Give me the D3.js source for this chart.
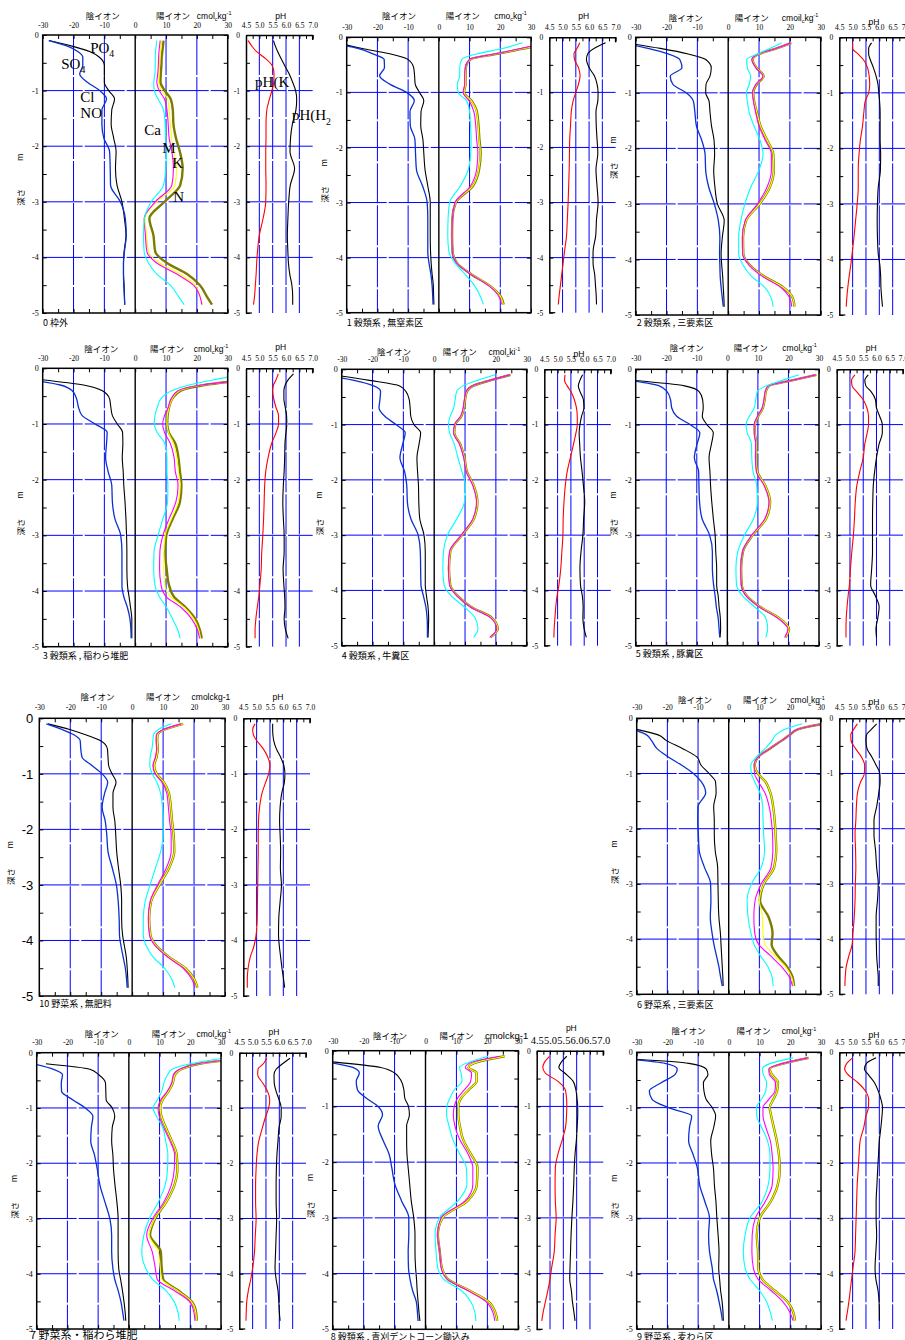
<!DOCTYPE html>
<html>
<head>
<meta charset="utf-8">
<script src="https://cdn.jsdelivr.net/npm/d3@7"></script>
<style>
  body { margin: 0; background: #fff; }
  svg { display: block; }
</style>
</head>
<body>
<svg id="chart" width="905" height="1340"></svg>
<script>
// depth (m) of every sample point, shared by all profiles
const DEPTHS = [0.1, 0.2, 0.3, 0.4, 0.55, 0.7, 0.85, 1.0, 1.15, 1.35, 1.6, 1.85, 2.1, 2.4, 2.7, 3.0, 3.3, 3.6, 3.9, 4.1, 4.3, 4.5, 4.7, 4.85];
const ION_TICKS = [-30, -20, -10, 0, 10, 20, 30];
const PH_TICKS = [4.5, 5.0, 5.5, 6.0, 6.5, 7.0];
const DEPTH_TICKS = [0, -1, -2, -3, -4, -5];
const ION_GRID = [-20, -10, 10, 20];
const PH_GRID = [5.0, 5.5, 6.0, 6.5];
const DEPTH_GRID = [-1, -2, -3, -4];

const CAPTIONS = ["0 枠外", "1 穀類系 , 無窒素区", "2 穀類系 , 三要素区", "3 穀類系 , 稲わら堆肥", "4 穀類系 , 牛糞区",
  "5 穀類系 , 豚糞区", "10 野菜系 , 無肥料", "6 野菜系 , 三要素区", "7 野菜系・稲わら堆肥", "8 穀類系 , 青刈デントコーン鋤込み", "9 野菜系 , 麦わら区"];
const UNITS = ["cmol_ckg^-1", "cmo_ckg^-1", "cmoil_ckg^-1", "cmol_ckg^-1", "cmol_cki^-1", "cmol_ckg^-1",
  "cmolckg-1", "cmol_ckg^-1", "cmol_ckg^-1", "cmolckg-1", "cmol_ckg^-1"];

// anions (negative) : black = PO4, blue = SO4+Cl+NO3 ; cations : cyan, magenta, yellow, olive ; pH red = KCl, black = H2O
const p0_black = [-28, -20.5, -14.6, -11.6, -10, -10, -10, -8.6, -6.7, -7.6, -7.8, -7, -6.2, -6.4, -5.9, -4.3, -3.5, -3, -3.6, -3.8, -3.8, -3.6, -3.5, -3.4];
const p0_blue = [-28, -22, -18.5, -17, -17, -18, -15.5, -11.5, -9.3, -10.8, -10.8, -10.2, -8.3, -8.1, -8, -4.8, -3.2, -2.9, -3.5, -3.8, -3.8, -3.7, -3.5, -3.4];
const p0_cyan = [7.0, 6.8, 6.6, 6.5, 6.5, 6.4, 6.0, 6.2, 7.4, 9.2, 9.7, 9.9, 10.1, 9.9, 9.2, 5.2, 3.0, 2.7, 2.9, 4.3, 7.0, 11.4, 14.0, 15.9];
const p0_magenta = [8.1, 7.9, 7.7, 7.6, 7.5, 7.3, 7.0, 7.8, 9.5, 10.3, 10.7, 11.0, 11.9, 12.4, 11.9, 6.5, 2.9, 3.3, 3.8, 7.0, 13.5, 18.9, 21.0, 21.6];
const p0_yellow = [8.6, 8.4, 8.2, 8.0, 7.9, 7.7, 7.6, 8.6, 10.5, 11.0, 11.4, 11.8, 12.5, 13.4, 12.9, 7.0, 3.2, 3.7, 4.3, 7.9, 14.6, 19.5, 21.0, 21.8];
const p0_olive = [9.2, 9.0, 8.8, 8.6, 8.5, 8.3, 8.2, 9.6, 11.5, 12.2, 12.4, 13.2, 14.5, 15.4, 14.6, 9.5, 4.6, 5.9, 6.5, 10.3, 16.8, 21.0, 23.2, 24.9];
const p0_phKcl = [4.58, 4.72, 4.9, 5.17, 5.48, 5.55, 5.54, 5.47, 5.38, 5.28, 5.25, 5.25, 5.24, 5.24, 5.25, 5.24, 5.14, 5.0, 4.93, 4.9, 4.88, 4.85, 4.82, 4.78];
const p0_phH2o = [5.53, 5.6, 5.69, 5.79, 5.95, 6.12, 6.25, 6.36, 6.4, 6.37, 6.24, 6.17, 6.15, 6.32, 6.16, 6.1, 6.07, 6.05, 6.07, 6.09, 6.14, 6.22, 6.25, 6.25];

const p1_black = [-33, -25.3, -16, -10.1, -8.2, -7.9, -7.7, -6.3, -4.9, -5.8, -5.9, -5.2, -4.9, -4.5, -3.6, -2.8, -2.8, -2.8, -2.7, -2.5, -2.2, -1.8, -1.7, -1.6];
const p1_blue = [-36, -26.4, -21.5, -17.8, -17.7, -19.3, -16, -10.5, -8.0, -9.4, -9.3, -7.8, -7.6, -7.3, -5.3, -3.8, -3.6, -3.6, -3.6, -3.2, -2.6, -2.2, -2.0, -1.9];
const p1_cyan = [27.2, 21, 12.5, 7.5, 6.8, 6.8, 6.0, 6.3, 9.0, 10.0, 10.3, 10.5, 10.4, 9.6, 7.0, 3.5, 3.0, 2.9, 3.3, 5.3, 8.5, 11.5, 13.5, 14.5];
const p1_magenta = [35, 27, 18.5, 10, 8.6, 8.4, 8.4, 7.9, 9.8, 11.4, 12.0, 12.3, 12.7, 12.3, 10.3, 5.3, 4.4, 4.3, 4.4, 5.8, 10.3, 16.0, 19.5, 20.4];
const p1_yellow = [36, 28, 19, 10.3, 8.8, 8.7, 8.7, 8.2, 10.5, 12.3, 12.8, 13.1, 13.5, 13.0, 11.0, 5.5, 4.4, 4.3, 4.5, 5.9, 10.5, 16.3, 20.0, 21.0];
const p1_olive = [36, 28, 19, 10.3, 8.8, 8.7, 8.7, 8.2, 10.6, 12.4, 12.9, 13.2, 13.6, 13.1, 11.1, 5.5, 4.4, 4.3, 4.5, 5.9, 10.5, 16.3, 20.1, 21.1];
const p1_phKcl = [5.65, 5.55, 5.43, 5.45, 5.6, 5.66, 5.6, 5.5, 5.4, 5.33, 5.3, 5.27, 5.26, 5.25, 5.23, 5.21, 5.18, 5.15, 5.07, 5.02, 4.97, 4.92, 4.87, 4.84];
const p1_phH2o = [6.62, 6.2, 5.95, 5.9, 6.0, 6.2, 6.3, 6.34, 6.33, 6.26, 6.27, 6.3, 6.33, 6.26, 6.3, 6.34, 6.28, 6.25, 6.15, 6.15, 6.21, 6.24, 6.27, 6.28];

const p2_black = [-33, -22, -13, -7.3, -5.5, -5.9, -7.2, -7.3, -6.2, -5.9, -5.4, -4.6, -4.4, -4.7, -4.3, -3.5, -1.3, -1.9, -2.3, -2.1, -1.8, -1.6, -1.4, -1.3];
const p2_blue = [-35, -26, -19.5, -15.7, -15, -18.8, -17.9, -13.6, -11.3, -10.8, -10.3, -8.6, -7.5, -7.3, -6.3, -4.5, -3.2, -2.7, -2.8, -2.7, -2.6, -2.3, -1.9, -1.6];
const p2_cyan = [17.3, 13.5, 9.5, 6.0, 6.2, 7.3, 6.8, 5.9, 6.2, 6.8, 8.4, 10.3, 11.3, 9.9, 7.3, 5.4, 4.1, 3.4, 3.4, 4.8, 7.5, 11.8, 14.0, 14.6];
const p2_magenta = [20.3, 15.5, 9.8, 7.7, 9.0, 11.3, 9.0, 7.9, 8.2, 8.9, 10.0, 12.0, 14.0, 14.0, 12.6, 9.5, 5.5, 4.6, 4.7, 6.8, 11.0, 17.0, 20.0, 20.6];
const p2_yellow = [20.5, 15.7, 10.0, 7.9, 9.2, 11.5, 9.2, 8.1, 8.4, 9.3, 10.5, 12.6, 14.6, 14.8, 13.5, 10.2, 5.8, 4.8, 4.9, 7.0, 11.5, 17.8, 21.0, 21.5];
const p2_olive = [20.5, 15.7, 10.0, 7.9, 9.2, 11.5, 9.2, 8.1, 8.4, 9.3, 10.5, 12.6, 14.6, 14.8, 13.5, 10.2, 5.8, 4.8, 4.9, 7.0, 11.5, 17.8, 21.0, 21.5];
const p2_phKcl = [5.0, 5.0, 5.2, 5.4, 5.56, 5.62, 5.64, 5.6, 5.47, 5.42, 5.37, 5.29, 5.24, 5.21, 5.21, 5.17, 5.11, 5.05, 4.98, 4.93, 4.87, 4.82, 4.78, 4.76];
const p2_phH2o = [5.71, 5.6, 5.6, 5.66, 5.78, 5.88, 5.95, 5.98, 6.01, 6.03, 6.03, 6.03, 6.05, 6.04, 5.96, 5.93, 5.92, 5.93, 5.96, 6.02, 6.05, 6.06, 6.09, 6.12];

const p3_black = [null, -31, -16.8, -10.8, -8.3, -7.9, -7.4, -5.8, -4.1, -4.0, -4.2, -3.9, -3.7, -3.3, -3.0, -2.8, -2.7, -2.7, -2.5, -2.0, -1.5, -1.1, -1.1, -1.1];
const p3_blue = [null, -35, -24.3, -20.5, -19.0, -18.4, -17.2, -13.0, -9.1, -9.3, -9.6, -8.8, -7.6, -7.4, -6.6, -4.7, -4.3, -4.3, -4.3, -3.7, -2.5, -1.7, -1.4, -1.3];
const p3_cyan = [36, 26, 17.5, 12.0, 8.3, 7.2, 6.4, 6.2, 7.1, 9.6, 10.3, 10.3, 10.6, 10.5, 9.0, 7.4, 6.1, 6.0, 6.4, 7.8, 10.2, 12.1, 13.8, 14.6];
const p3_magenta = [null, 38, 21.5, 14.0, 11.6, 10.7, 9.5, 8.9, 9.5, 11.4, 12.6, 13.0, 13.9, 13.2, 11.0, 9.0, 8.0, 7.9, 8.4, 10.0, 15.0, 18.3, 20.2, 20.9];
const p3_yellow = [null, 38, 22, 14.5, 12.0, 11.0, 10.4, 10.3, 10.8, 12.4, 13.5, 14.0, 14.6, 14.0, 11.8, 9.7, 9.3, 9.3, 9.6, 11.5, 16.0, 19.0, 20.6, 21.2];
const p3_olive = [null, 38, 22.5, 14.8, 12.0, 11.0, 10.5, 10.4, 10.9, 13.0, 14.0, 14.5, 15.0, 14.5, 12.2, 10.1, 9.7, 10.2, 11.0, 12.5, 16.5, 19.5, 21.0, 21.6];
const p3_phKcl = [5.71, 5.63, 5.53, 5.5, 5.54, 5.62, 5.72, 5.72, 5.63, 5.46, 5.33, 5.24, 5.2, 5.18, 5.16, 5.13, 5.09, 5.07, 5.02, 4.98, 4.92, 4.87, 4.84, 4.84];
const p3_phH2o = [6.28, 6.09, 5.97, 5.92, 5.92, 5.97, 6.02, 6.03, 6.0, 5.96, 5.95, 5.93, 5.9, 5.88, 5.9, 5.93, 5.93, 5.89, 5.92, 5.95, 5.96, 5.93, 5.98, 6.08];

const p4_black = [-33, -21, -11.2, -9.2, -8.1, -7.8, -7.6, -6.6, -4.4, -4.9, -5.6, -5.4, -5.1, -5.0, -4.7, -3.3, -2.9, -2.9, -2.9, -2.5, -2.0, -1.8, -1.9, -2.0];
const p4_blue = [-36, -26, -19.6, -17.4, -17.6, -17.9, -16, -12.4, -9.4, -10.2, -11.1, -9.6, -8.9, -8.7, -7.6, -5.2, -4.5, -4.4, -4.3, -3.5, -2.7, -2.3, -2.2, -2.2];
const p4_cyan = [19.8, 14, 9.3, 7.3, 6.8, 6.3, 5.2, 4.6, 5.0, 6.5, 7.7, 9.0, 10.1, 9.8, 7.4, 4.3, 3.0, 2.8, 3.2, 5.5, 9.8, 13.3, 14.2, 12.8];
const p4_magenta = [24.6, 18.0, 12.4, 10.4, 9.8, 9.4, 8.6, 6.6, 6.3, 8.2, 9.6, 10.4, 12.5, 13.7, 12.6, 8.8, 5.0, 4.6, 5.0, 7.4, 11.8, 18.5, 20.3, 18.0];
const p4_yellow = [24.8, 18.2, 12.6, 10.6, 10.0, 9.6, 8.8, 6.8, 6.5, 8.4, 9.8, 10.6, 12.8, 14.0, 12.9, 9.0, 5.2, 4.8, 5.2, 7.6, 12.0, 18.8, 20.6, 18.3];
const p4_olive = [24.8, 18.2, 12.6, 10.6, 10.0, 9.6, 8.8, 6.8, 6.5, 8.4, 9.8, 10.6, 12.8, 14.0, 12.9, 9.0, 5.2, 4.8, 5.2, 7.6, 12.0, 18.8, 20.6, 18.3];
const p4_phKcl = [5.28, 5.26, 5.36, 5.5, 5.63, 5.71, 5.74, 5.74, 5.69, 5.6, 5.48, 5.36, 5.29, 5.24, 5.21, 5.2, 5.16, 5.12, 5.05, 4.98, 4.93, 4.9, 4.87, 4.86];
const p4_phH2o = [5.94, 5.84, 5.78, 5.84, 5.97, 5.99, 5.9, 5.84, 5.81, 5.83, 5.86, 5.92, 5.97, 6.02, 5.98, 5.95, 5.88, 5.84, 5.86, 5.93, 5.96, 5.95, 6.0, 6.08];

const p5_black = [null, -31, -14, -9.3, -8.1, -7.9, -8.2, -6.7, -4.6, -5.2, -6.0, -5.7, -5.5, -5.1, -4.6, -4.0, -3.8, -3.5, -3.5, -3.0, -2.7, -2.3, -2.2, -2.4];
const p5_blue = [null, -32, -22.3, -19.8, -18.6, -18.2, -16.6, -12.2, -9.0, -9.9, -10.8, -9.4, -9.3, -9.1, -8.3, -5.8, -4.9, -4.9, -4.5, -4.0, -3.6, -3.0, -2.7, -2.5];
const p5_cyan = [23.4, 18.0, 12.8, 9.8, 9.3, 8.8, 7.2, 6.1, 6.5, 7.9, 8.0, 8.4, 9.6, 9.8, 8.6, 5.6, 3.4, 2.8, 3.0, 5.0, 9.0, 12.6, 13.2, 12.6];
const p5_magenta = [29, 21, 13.4, 12.4, 12.0, 11.4, 9.9, 8.8, 8.8, 9.3, 9.2, 9.5, 12.0, 13.6, 12.3, 8.0, 5.0, 4.4, 4.6, 6.2, 10.5, 16.5, 19.8, 18.8];
const p5_yellow = [29.2, 21.2, 13.6, 12.6, 12.2, 11.6, 10.1, 9.0, 9.0, 9.5, 9.4, 9.8, 12.4, 14.0, 12.7, 8.3, 5.1, 4.5, 4.7, 6.4, 10.8, 16.9, 20.2, 19.0];
const p5_olive = [29.2, 21.2, 13.6, 12.6, 12.2, 11.6, 10.1, 9.0, 9.0, 9.5, 9.4, 9.8, 12.4, 14.0, 12.7, 8.3, 5.1, 4.5, 4.7, 6.4, 10.8, 16.9, 20.2, 19.0];
const p5_phKcl = [5.19, 5.06, 5.08, 5.24, 5.5, 5.64, 5.7, 5.7, 5.65, 5.56, 5.5, 5.37, 5.26, 5.2, 5.17, 5.13, 5.07, 5.02, 4.98, 4.93, 4.89, 4.86, 4.85, 4.85];
const p5_phH2o = [5.69, 5.56, 5.6, 5.79, 5.96, 6.0, 6.12, 6.22, 6.22, 6.1, 6.0, 5.93, 5.88, 5.86, 5.85, 5.85, 5.85, 5.82, 5.78, 5.96, 6.1, 6.05, 5.98, 6.0];

const p10_black = [-27.2, -20.2, -14.8, -10.3, -8.0, -7.8, -7.6, -6.5, -5.2, -6.2, -6.2, -5.6, -5.3, -5.0, -4.4, -3.7, -3.4, -3.4, -3.1, -2.5, -1.9, -1.6, -1.4, -1.3];
const p10_blue = [-27.7, -22.7, -18.7, -16.8, -16.6, -16.2, -13.0, -9.7, -7.9, -8.9, -9.7, -8.7, -8.2, -7.8, -6.4, -5.1, -4.5, -4.2, -4.1, -3.6, -2.9, -2.2, -1.8, -1.6];
const p10_cyan = [12.7, 8.5, 6.9, 6.7, 6.4, 5.8, 5.7, 6.5, 8.0, 9.2, 9.8, 10.0, 10.0, 9.2, 7.5, 5.8, 4.2, 3.6, 3.6, 4.6, 6.8, 10.5, 12.8, 13.8];
const p10_magenta = [15.9, 10.2, 7.8, 7.7, 7.9, 7.5, 6.7, 7.4, 9.6, 11.2, 11.7, 12.1, 12.6, 12.6, 11.0, 8.2, 5.8, 5.2, 5.6, 7.5, 11.5, 16.5, 19.3, 20.3];
const p10_yellow = [16.5, 10.6, 8.2, 8.1, 8.3, 7.9, 7.1, 7.9, 10.2, 11.9, 12.5, 12.9, 13.4, 13.6, 11.9, 8.8, 6.1, 5.5, 5.9, 7.9, 12.0, 17.2, 20.1, 21.1];
const p10_olive = [16.5, 10.6, 8.2, 8.1, 8.3, 7.9, 7.1, 7.9, 10.2, 11.9, 12.5, 12.9, 13.4, 13.6, 11.9, 8.8, 6.1, 5.5, 5.9, 7.9, 12.0, 17.2, 20.1, 21.1];
const p10_phKcl = [4.94, 4.85, 4.88, 5.0, 5.25, 5.42, 5.5, 5.45, 5.34, 5.2, 5.11, 5.07, 5.06, 5.06, 5.05, 5.04, 5.03, 5.02, 4.98, 4.9, 4.76, 4.68, 4.65, 4.65];
const p10_phH2o = [5.6, 5.6, 5.61, 5.64, 5.74, 5.9, 6.02, 6.06, 6.04, 5.94, 5.88, 5.86, 5.88, 5.9, 5.89, 5.93, 5.88, 5.83, 5.82, 5.85, 5.9, 5.95, 6.01, 6.05];

const p6_black = [null, -30, -23, -20.4, -15.0, -10.4, -9.0, -6.4, -4.3, -4.1, -4.9, -4.7, -4.7, -4.4, -3.6, -3.5, -3.4, -3.2, -2.7, -2.5, -2.3, -2.1, -1.9, -1.8];
const p6_blue = [null, -31, -26.8, -25.2, -23.4, -19.7, -15.3, -11.5, -8.9, -7.5, -10.0, -10.1, -9.9, -9.6, -7.9, -5.9, -5.8, -6.0, -5.4, -4.8, -4.0, -3.2, -2.6, -2.1];
const p6_cyan = [24, 18.3, 15.3, 14.2, 11.8, 9.1, 7.2, 7.4, 8.5, 10.2, 11.1, 11.2, 11.4, 11.7, 10.6, 7.4, 6.0, 6.3, 7.3, 8.3, 10.3, 12.8, 14.2, 14.5];
const p6_magenta = [31, 22.5, 19.9, 17.4, 13.4, 9.6, 8.3, 8.4, 9.7, 11.8, 13.2, 13.9, 14.3, 14.4, 13.8, 10.6, 8.6, 8.2, 8.5, 9.8, 13.6, 17.2, 19.9, 20.8];
const p6_yellow = [31, 22.5, 19.9, 17.4, 13.4, 9.6, 8.5, 9.5, 12.0, 13.6, 14.5, 15.0, 15.3, 15.5, 14.8, 11.5, 10.0, 11.0, 11.2, 11.9, 15.0, 18.5, 20.6, 21.2];
const p6_olive = [31, 22.5, 19.9, 17.4, 13.4, 9.6, 8.5, 9.5, 12.0, 13.6, 14.5, 15.0, 15.3, 15.5, 14.8, 11.5, 10.2, 13.0, 14.3, 14.0, 16.0, 19.0, 20.9, 21.3];
const p6_phKcl = [5.18, 5.04, 4.93, 4.94, 5.11, 5.33, 5.45, 5.44, 5.3, 5.18, 5.14, 5.12, 5.09, 5.11, 5.12, 5.1, 5.09, 5.06, 5.01, 4.98, 4.86, 4.76, 4.72, 4.71];
const p6_phH2o = [5.9, 5.7, 5.52, 5.5, 5.54, 5.72, 5.88, 6.02, 6.03, 5.98, 5.9, 5.8, 5.8, 5.86, 5.9, 5.96, 5.93, 5.88, 5.88, 5.89, 5.9, 5.93, 5.96, 5.96];

const p7_black = [null, -27, -12.7, -9.8, -7.6, -7.5, -7.4, -5.4, -4.6, -5.4, -5.6, -5.2, -5.0, -4.5, -3.9, -3.5, -3.5, -3.5, -3.3, -2.7, -2.1, -1.6, -1.2, -1.0];
const p7_blue = [null, -31, -24.5, -21.6, -22.0, -21.9, -18.3, -14.2, -11.7, -12.2, -12.4, -11.2, -10.3, -9.4, -7.8, -6.2, -5.6, -5.6, -5.2, -4.6, -3.5, -2.6, -2.0, -1.6];
const p7_cyan = [30.5, 20, 14.1, 12.6, 11.4, 10.7, 9.3, 7.9, 9.0, 11.0, 12.0, 12.7, 12.6, 11.8, 9.6, 6.7, 4.9, 4.2, 5.5, 7.7, 12.0, 14.7, 16.0, 16.4];
const p7_magenta = [38, 22.5, 16.5, 14.5, 13.9, 12.5, 10.4, 9.5, 9.9, 11.3, 13.4, 14.9, 14.8, 13.8, 11.4, 7.8, 5.8, 7.6, 8.6, 9.2, 14.6, 19.7, 21.2, 21.5];
const p7_yellow = [38, 23, 17, 15.0, 14.3, 12.9, 11.0, 10.2, 10.6, 12.0, 14.0, 15.6, 15.8, 14.8, 12.2, 8.5, 6.6, 9.6, 10.2, 10.7, 15.8, 20.3, 21.8, 22.0];
const p7_olive = [38, 23, 17, 15.0, 14.3, 12.9, 11.0, 10.2, 10.6, 12.0, 14.0, 15.6, 15.8, 14.8, 12.2, 8.6, 6.9, 10.4, 10.7, 11.2, 16.0, 20.4, 21.9, 22.1];
const p7_phKcl = [5.53, 5.4, 5.2, 5.19, 5.38, 5.56, 5.64, 5.6, 5.49, 5.37, 5.23, 5.16, 5.13, 5.11, 5.11, 5.13, 5.1, 5.07, 5.0, 4.93, 4.84, 4.78, 4.76, 4.75];
const p7_phH2o = [6.4, 6.12, 5.88, 5.8, 5.81, 5.88, 5.99, 6.07, 6.07, 5.99, 5.95, 5.91, 5.89, 5.88, 5.88, 5.9, 5.88, 5.86, 5.84, 5.88, 5.95, 5.98, 6.0, 6.03];

const p8_black = [null, -30, -14.5, -10.0, -7.8, -7.0, -6.7, -5.5, -5.2, -6.1, -6.1, -6.0, -5.6, -5.1, -4.6, -3.8, -3.4, -3.4, -3.2, -2.9, -2.7, -2.4, -2.1, -1.8];
const p8_blue = [null, -32, -23.5, -21.4, -22.4, -22.0, -19.2, -15.3, -13.9, -15.3, -13.8, -11.8, -10.9, -9.9, -7.7, -5.4, -5.4, -5.6, -5.5, -5.0, -4.2, -3.0, -2.6, -2.4];
const p8_cyan = [20.3, 14.5, 11.0, 11.5, 11.8, 9.3, 7.9, 6.9, 6.8, 7.6, 8.9, 11.0, 13.2, 13.4, 10.4, 4.5, 3.1, 3.4, 4.0, 5.8, 11.5, 14.6, 16.0, 16.3];
const p8_magenta = [24, 15.4, 12.9, 14.9, 14.6, 12.6, 10.4, 9.3, 9.0, 9.5, 11.1, 13.7, 15.3, 15.3, 12.7, 5.0, 3.9, 4.6, 5.1, 7.0, 13.5, 19.5, 21.8, 22.4];
const p8_yellow = [25.6, 17.0, 13.9, 16.5, 16.5, 14.0, 11.5, 10.6, 10.6, 11.1, 12.2, 14.6, 16.8, 16.6, 13.5, 5.5, 4.0, 4.6, 5.3, 7.2, 14.0, 20.3, 22.6, 23.2];
const p8_olive = [25.6, 17.0, 13.9, 16.5, 16.5, 14.0, 11.5, 10.6, 10.6, 11.1, 12.2, 14.6, 16.8, 16.6, 13.5, 5.5, 4.0, 4.6, 5.3, 7.2, 14.0, 20.3, 22.6, 23.2];
const p8_phKcl = [4.98, 4.8, 4.73, 4.82, 5.3, 5.57, 5.62, 5.63, 5.62, 5.59, 5.46, 5.3, 5.2, 5.19, 5.2, 5.23, 5.19, 5.16, 5.06, 5.0, 4.92, 4.83, 4.74, 4.69];
const p8_phH2o = [5.63, 5.43, 5.33, 5.55, 5.87, 5.97, 6.01, 6.04, 6.04, 6.02, 5.99, 5.94, 5.91, 5.89, 5.86, 5.82, 5.79, 5.77, 5.75, 5.74, 5.8, 5.84, 5.9, 5.94];

const p9_black = [-38, -13, -7.4, -6.8, -8.3, -8.1, -7.4, -5.4, -4.3, -4.9, -5.9, -5.6, -5.0, -4.7, -4.2, -3.9, -3.5, -3.2, -3.3, -3.0, -2.7, -2.2, -1.9, -1.8];
const p9_blue = [-38, -20.8, -16.8, -17.5, -22.0, -25.9, -25.0, -19.7, -12.1, -12.8, -13.1, -11.6, -10.2, -9.5, -7.8, -6.3, -6.6, -6.3, -5.4, -5.0, -4.0, -3.2, -2.5, -2.1];
const p9_cyan = [20.9, 13.6, 10.9, 11.2, 12.3, 12.0, 10.6, 9.0, 9.1, 10.6, 12.6, 13.4, 13.4, 12.8, 10.8, 6.8, 5.3, 4.7, 5.3, 6.9, 9.9, 12.2, 13.5, 14.2];
const p9_magenta = [25.8, 17.7, 13.0, 13.2, 15.2, 15.0, 13.0, 11.1, 11.1, 12.0, 13.5, 14.1, 14.4, 14.1, 11.8, 8.6, 7.6, 7.5, 8.0, 9.5, 13.6, 17.5, 19.9, 20.9];
const p9_yellow = [26, 18.0, 13.3, 14.0, 16.0, 15.7, 14.5, 13.3, 13.8, 14.6, 15.6, 16.3, 16.6, 15.9, 13.6, 10.0, 9.1, 9.5, 9.6, 10.9, 14.8, 19.0, 21.0, 21.5];
const p9_olive = [26, 18.0, 13.3, 14.0, 16.0, 15.7, 14.5, 13.3, 13.8, 14.6, 15.6, 16.3, 16.6, 15.9, 13.6, 10.0, 9.1, 9.5, 9.6, 10.9, 14.8, 19.0, 21.0, 21.5];
const p9_phKcl = [5.0, 4.78, 4.7, 4.82, 5.2, 5.48, 5.6, 5.59, 5.5, 5.42, 5.28, 5.24, 5.21, 5.17, 5.15, 5.13, 5.11, 5.09, 5.01, 4.96, 4.91, 4.86, 4.8, 4.75];
const p9_phH2o = [5.88, 5.52, 5.44, 5.58, 5.82, 5.96, 6.06, 6.12, 6.1, 6.06, 6.0, 5.97, 5.94, 5.91, 5.88, 5.88, 5.9, 5.87, 5.84, 5.87, 5.95, 5.99, 6.0, 6.0];

// series labels written inside panel 0 (value / depth coordinates)
const P0_NOTES = [
  { t: "PO_4", v: -14.6, d: 0.32 }, { t: "SO_4", v: -24, d: 0.61 }, { t: "Cl", v: -17.8, d: 1.2 },
  { t: "NO", v: -17.8, d: 1.49 }, { t: "Ca", v: 2.9, d: 1.8 }, { t: "M", v: 8.8, d: 2.12 },
  { t: "K", v: 12, d: 2.39 }, { t: "N", v: 12.3, d: 3.0 }
];
const P0_PH_NOTES = [{ t: "pH(K", v: 4.84, d: 0.94 }, { t: "pH(H_2", v: 6.22, d: 1.53 }];

const ION_STYLE = [
  { color: "#000000", width: 1.1 },
  { color: "#0a30d0", width: 1.3 },
  { color: "#7c7c00", width: 2.4 },
  { color: "#ffff00", width: 1.1 },
  { color: "#ff00ff", width: 1.1 },
  { color: "#00ffff", width: 1.1 }
];
const PH_STYLE = [{ color: "#ff0000", width: 1.1 }, { color: "#000000", width: 1.1 }];

const serif = '"Liberation Serif","Times New Roman",serif';
const sans = '"Liberation Sans",Arial,sans-serif';
const cjk = '"Noto Sans CJK JP","Noto Sans CJK SC",sans-serif';

// page layout of each panel
const PANELS = [
  { x0: 42.7, x1: 227.7, y0: 35, y1: 313, p0: 246, p1: 312.7, ky: 28, ty: 18.5, phy: 18.5, capx: 43, capy: 326, an: -10.5, ca: 12.3, un: 20, mt: 0.44, ft: 0.584,
    ions: [p0_black, p0_blue, p0_olive, p0_yellow, p0_magenta, p0_cyan], ph: [p0_phKcl, p0_phH2o] },
  { x0: 346.7, x1: 531, y0: 37.3, y1: 312.7, p0: 549.3, p1: 615.6, ky: 29.5, ty: 18.5, phy: 18.5, capx: 346.7, capy: 326, an: -13, ca: 7.8, un: 18,
    ions: [p1_black, p1_blue, p1_olive, p1_yellow, p1_magenta, p1_cyan], ph: [p1_phKcl, p1_phH2o] },
  { x0: 635.7, x1: 820.7, y0: 37.3, y1: 315, p0: 839.3, p1: 906, ky: 30, ty: 20.5, phy: 25, capx: 636.7, capy: 326, an: -13.8, ca: 7.6, un: 17.4, mt: 0.37, ft: 0.48,
    ions: [p2_black, p2_blue, p2_olive, p2_yellow, p2_magenta, p2_cyan], ph: [p2_phKcl, p2_phH2o] },
  { x0: 42.7, x1: 227.7, y0: 368.3, y1: 646.7, p0: 246, p1: 312.7, ky: 361, ty: 351.5, phy: 350, capx: 42.7, capy: 658.5, an: -11, ca: 10.3, un: 19,
    ions: [p3_black, p3_blue, p3_olive, p3_yellow, p3_magenta, p3_cyan], ph: [p3_phKcl, p3_phH2o] },
  { x0: 341.7, x1: 526.7, y0: 369.3, y1: 645.7, p0: 544.3, p1: 610.8, ky: 362, ty: 354.5, phy: 356.5, capx: 341.7, capy: 658.5, an: -13, ca: 8.3, un: 17.6,
    ions: [p4_black, p4_blue, p4_olive, p4_yellow, p4_magenta, p4_cyan], ph: [p4_phKcl, p4_phH2o] },
  { x0: 635.7, x1: 819, y0: 369.3, y1: 645.7, p0: 836.7, p1: 903, ky: 361, ty: 350.5, phy: 350.5, capx: 635.7, capy: 657, an: -13.3, ca: 7.7, un: 18,
    ions: [p5_black, p5_blue, p5_olive, p5_yellow, p5_magenta, p5_cyan], ph: [p5_phKcl, p5_phH2o] },
  { x0: 39.3, x1: 225, y0: 718.3, y1: 996, p0: 243.3, p1: 310, ky: 710, ty: 700, phy: 700, capx: 39.3, capy: 1007, an: -11.2, ca: 10, un: 19.2, bigY: true, ytx: 29,
    ions: [p10_black, p10_blue, p10_olive, p10_yellow, p10_magenta, p10_cyan], ph: [p10_phKcl, p10_phH2o] },
  { x0: 636.7, x1: 820.7, y0: 718.3, y1: 994.3, p0: 839.3, p1: 906, ky: 710, ty: 703, phy: 705, capx: 637, capy: 1007.5, an: -11, ca: 10.2, un: 20.1,
    ions: [p6_black, p6_blue, p6_olive, p6_yellow, p6_magenta, p6_cyan], ph: [p6_phKcl, p6_phH2o] },
  { x0: 36.7, x1: 221, y0: 1052.7, y1: 1329, p0: 239.3, p1: 306, ky: 1045, ty: 1036.5, phy: 1035, capx: 30, capy: 1339, capSize: 11, an: -8.8, ca: 13, un: 22, phTick: 8.5,
    ions: [p7_black, p7_blue, p7_olive, p7_yellow, p7_magenta, p7_cyan], ph: [p7_phKcl, p7_phH2o] },
  { x0: 332.7, x1: 518.3, y0: 1050.7, y1: 1329.3, p0: 536.7, p1: 603.3, ky: 1043.5, ty: 1039, phy: 1031, capx: 330.7, capy: 1339.5, an: -11.5, ca: 10, un: 19.2, phTick: 10.5, unitSize: 9.5,
    ions: [p8_black, p8_blue, p8_olive, p8_yellow, p8_magenta, p8_cyan], ph: [p8_phKcl, p8_phH2o] },
  { x0: 636.7, x1: 821, y0: 1052.3, y1: 1329, p0: 839.3, p1: 906, ky: 1044.5, ty: 1034, phy: 1038, capx: 637, capy: 1339.5, an: -13.1, ca: 8, un: 17.2,
    ions: [p9_black, p9_blue, p9_olive, p9_yellow, p9_magenta, p9_cyan], ph: [p9_phKcl, p9_phH2o] }
];

const svg = d3.select("#chart");
const defs = svg.append("defs");

// text with _x subscripts and ^x superscripts
function richText(sel, str, size) {
  const parts = str.split(/(_\w|\^-?\d+)/).filter(s => s !== "");
  let shift = 0;
  parts.forEach(s => {
    let target = 0, txt = s;
    if (s[0] === "_") { target = size * 0.3; txt = s.slice(1); }
    else if (s[0] === "^") { target = -size * 0.4; txt = s.slice(1); }
    const t = sel.append("tspan").text(txt).attr("dy", target - shift);
    if (target !== 0) t.attr("font-size", size * 0.65);
    shift = target;
  });
}

function drawPanel(p, i) {
  const x = d3.scaleLinear().domain([-30, 30]).range([p.x0, p.x1]);
  const y = d3.scaleLinear().domain([0, -5]).range([p.y0, p.y1]);
  const ph = d3.scaleLinear().domain([4.5, 7.0]).range([p.p0, p.p1]);
  const g = svg.append("g");

  const clip = "clip" + i;
  defs.append("clipPath").attr("id", clip).append("rect")
    .attr("x", p.x0).attr("y", p.y0).attr("width", p.x1 - p.x0).attr("height", p.y1 - p.y0);

  // blue grid
  const grid = g.append("g").attr("stroke", "#0000ff").attr("stroke-width", 1).attr("stroke-dasharray", "40,2");
  grid.append("g").selectAll("line").data(ION_GRID).join("line")
    .attr("x1", x).attr("x2", x).attr("y1", p.y0).attr("y2", p.y1);
  grid.append("g").selectAll("line").data(DEPTH_GRID).join("line")
    .attr("x1", p.x0).attr("x2", p.x1).attr("y1", y).attr("y2", y);
  grid.append("g").selectAll("line").data(PH_GRID).join("line")
    .attr("x1", ph).attr("x2", ph).attr("y1", p.y0).attr("y2", p.y1);
  grid.append("g").selectAll("line").data(DEPTH_GRID).join("line")
    .attr("x1", p.p0).attr("x2", p.p1).attr("y1", y).attr("y2", y);

  // profiles
  const pts = arr => arr.map((v, k) => [v, DEPTHS[k]]);
  const lineFor = sx => d3.line().defined(d => d[0] != null)
    .x(d => sx(d[0])).y(d => y(-d[1])).curve(d3.curveMonotoneY);
  const ionG = g.append("g").attr("clip-path", `url(#${clip})`).attr("fill", "none");
  p.ions.forEach((arr, k) => {
    ionG.append("path").attr("d", lineFor(x)(pts(arr)))
      .attr("stroke", ION_STYLE[k].color).attr("stroke-width", ION_STYLE[k].width);
  });
  const phG = g.append("g").attr("fill", "none");
  p.ph.forEach((arr, k) => {
    phG.append("path").attr("d", lineFor(ph)(pts(arr)))
      .attr("stroke", PH_STYLE[k].color).attr("stroke-width", PH_STYLE[k].width);
  });

  // frame, zero line
  g.append("rect").attr("x", p.x0).attr("y", p.y0).attr("width", p.x1 - p.x0).attr("height", p.y1 - p.y0)
    .attr("fill", "none").attr("stroke", "#000").attr("stroke-width", 1.5);
  g.append("line").attr("x1", x(0)).attr("x2", x(0)).attr("y1", p.y0).attr("y2", p.y1)
    .attr("stroke", "#000").attr("stroke-width", 1.4);

  // inward ticks
  const halfM = d3.range(0, -5.01, -0.5);
  const fives = d3.range(-30, 30.01, 5);
  const tickAxis = (axis, tx, ty) => {
    const a = g.append("g").attr("transform", `translate(${tx},${ty})`).call(axis.tickSize(-4).tickSizeOuter(0).tickFormat(""));
    a.select(".domain").remove();
    a.selectAll("line").attr("stroke", "#000").attr("stroke-width", 1);
    return a;
  };
  tickAxis(d3.axisLeft(y).tickValues(halfM), p.x0, 0);
  tickAxis(d3.axisRight(y).tickValues(halfM), p.x1, 0);
  tickAxis(d3.axisTop(x).tickValues(fives), 0, p.y0);
  tickAxis(d3.axisBottom(x).tickValues(fives), 0, p.y1);

  // pH axes: left and top lines
  const phL = g.append("g").attr("transform", `translate(${p.p0},0)`)
    .call(d3.axisLeft(y).tickValues(halfM).tickSize(-4).tickSizeOuter(0).tickFormat(""));
  const phT = g.append("g").attr("transform", `translate(0,${p.y0})`)
    .call(d3.axisTop(ph).tickValues(d3.range(4.5, 7.01, 0.25)).tickSize(-4).tickSizeOuter(0).tickFormat(""));
  [phL, phT].forEach(a => {
    a.select(".domain").attr("stroke", "#000").attr("stroke-width", 1.5);
    a.selectAll("line").attr("stroke", "#000").attr("stroke-width", 1);
  });
  g.append("line").attr("x1", p.p1).attr("x2", p.p1).attr("y1", p.y0).attr("y2", p.y0 + 5)
    .attr("stroke", "#000").attr("stroke-width", 1.5);
  g.append("line").attr("x1", p.p0).attr("x2", p.p0 + 6).attr("y1", p.y1).attr("y2", p.y1)
    .attr("stroke", "#000").attr("stroke-width", 1.2);

  // tick labels
  const labelAxis = (axis, tx, ty, font, size) => {
    const a = g.append("g").attr("transform", `translate(${tx},${ty})`).call(axis);
    a.select(".domain").remove();
    a.selectAll("text").attr("font-family", font).attr("font-size", size).attr("fill", "#000");
    return a;
  };
  labelAxis(d3.axisTop(x).tickValues(ION_TICKS).tickSize(0).tickPadding(p.y0 - p.ky).tickFormat(d => String(d)),
    0, p.y0, serif, 7.5);
  labelAxis(d3.axisTop(ph).tickValues(PH_TICKS).tickSize(0).tickPadding(p.y0 - p.ky).tickFormat(d3.format(".1f")),
    0, p.y0, serif, p.phTick || 7.5);
  if (p.bigY) {
    labelAxis(d3.axisLeft(y).tickValues(DEPTH_TICKS).tickSize(0).tickPadding(6).tickFormat(d => String(d)),
      p.x0, 0, sans, 13);
  } else {
    labelAxis(d3.axisLeft(y).tickValues(DEPTH_TICKS).tickSize(0).tickPadding(4).tickFormat(d => String(d)),
      p.x0, 0, serif, 8);
  }
  labelAxis(d3.axisLeft(y).tickValues(DEPTH_TICKS).tickSize(0).tickPadding(6).tickFormat(d => String(d)),
    p.p0, 0, serif, 7.5);

  // titles
  g.append("text").attr("x", x(p.an)).attr("y", p.ty).attr("text-anchor", "middle")
    .attr("font-family", cjk).attr("font-size", 8.5).text("陰イオン");
  g.append("text").attr("x", x(p.ca)).attr("y", p.ty).attr("text-anchor", "middle")
    .attr("font-family", cjk).attr("font-size", 8.5).text("陽イオン");
  const us = p.unitSize || 8.5;
  const ut = g.append("text").attr("x", x(p.un)).attr("y", p.ty).attr("font-family", sans).attr("font-size", us);
  richText(ut, UNITS[i], us);
  g.append("text").attr("x", ph(5.8)).attr("y", p.phy).attr("text-anchor", "middle")
    .attr("font-family", sans).attr("font-size", 8.5).text("pH");

  // depth title
  const ytx = p.x0 - (p.ytx || 23);
  const span = p.y1 - p.y0;
  g.append("text").attr("transform", `translate(${ytx},${p.y0 + span * (p.mt || 0.455)}) rotate(-90)`)
    .attr("text-anchor", "middle").attr("dominant-baseline", "central")
    .attr("font-family", sans).attr("font-size", 8.5).text("m");
  g.append("text").attr("transform", `translate(${ytx},${p.y0 + span * (p.ft || 0.57)}) rotate(-90)`)
    .attr("text-anchor", "middle").attr("dominant-baseline", "central")
    .attr("font-family", cjk).attr("font-size", 8.5).text("深さ");

  // caption
  g.append("text").attr("x", p.capx).attr("y", p.capy).attr("font-family", cjk)
    .attr("font-size", p.capSize || 9).text(CAPTIONS[i]);

  if (i === 0) {
    P0_NOTES.forEach(n => {
      const t = g.append("text").attr("x", x(n.v)).attr("y", y(-n.d))
        .attr("font-family", serif).attr("font-size", 15);
      richText(t, n.t, 15);
    });
    P0_PH_NOTES.forEach(n => {
      const t = g.append("text").attr("x", ph(n.v)).attr("y", y(-n.d))
        .attr("font-family", serif).attr("font-size", 15);
      richText(t, n.t, 15);
    });
  }
}

PANELS.forEach(drawPanel);
</script>
</body>
</html>
